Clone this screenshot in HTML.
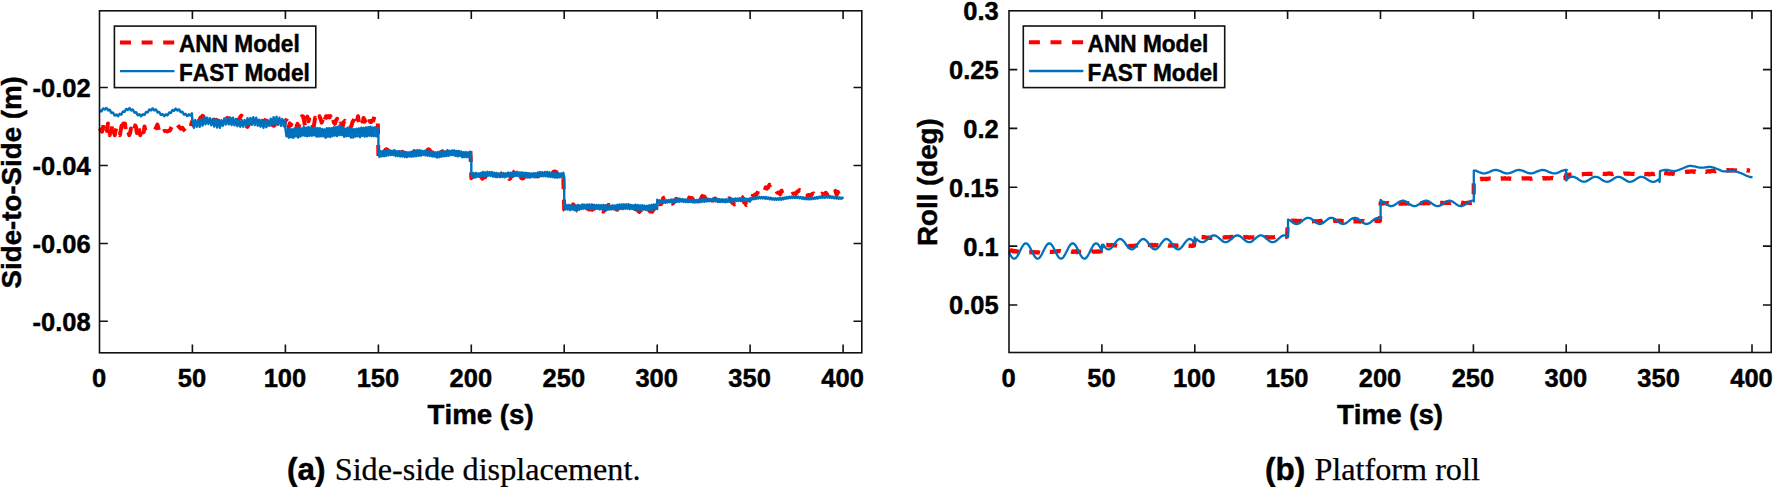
<!DOCTYPE html>
<html><head><meta charset="utf-8"><title>Figure</title>
<style>
html,body{margin:0;padding:0;background:#fff}
svg{display:block}
text{font-family:"Liberation Sans",Arial,Helvetica,sans-serif;font-weight:bold;font-kerning:none;fill:#000;stroke:#000;stroke-width:0.45px;stroke-linejoin:round}
.tk{font-size:25.5px}
.lb{font-size:27.7px}
.lg{font-size:22.65px}
.cb{font-size:31.5px}
.cs{font-family:"Liberation Serif","Times New Roman",serif;font-weight:normal;font-size:32.2px;stroke-width:0.25px}
</style></head><body>
<svg width="1773" height="487" viewBox="0 0 1773 487">
<rect width="1773" height="487" fill="#fff"/>
<!-- left data -->
<path d="M99.5,128.2 L100.3,129.3 L101.2,130.4 L102.0,131.6 L102.9,128.4 L103.7,123.6 L104.6,128.1 L105.4,130.6 L106.3,128.7 L107.1,131.0 L108.0,123.6 L108.8,132.1 L109.7,135.2 L110.5,131.1 L111.4,131.7 L112.2,124.7 L113.1,133.0 L113.9,132.0 L114.8,135.2 L115.6,130.7 L116.5,126.9 L117.3,130.1 L118.2,133.8 L119.0,134.3 L119.9,135.2 L120.7,130.4 L121.6,125.5 L122.4,131.6 L123.3,123.6 L124.1,124.5 L125.0,123.6 L125.8,131.0 L126.7,127.4 L127.5,131.4 L128.4,132.5 L129.2,135.2 L130.1,133.0 L130.9,128.5 L131.8,133.0 L132.6,130.1 L133.5,130.6 L134.3,129.7 L135.2,125.4 L136.0,126.9 L136.9,132.9 L137.7,126.9 L138.6,125.5 L139.4,132.3 L140.3,135.2 L141.1,130.7 L142.0,126.0 L142.8,128.9 L143.7,132.1 L144.5,126.5 L145.3,130.5 L147.2,130.9 L150.4,131.4 L154.1,130.9 L156.0,127.7 L157.4,124.5 L158.7,129.6 L159.7,135.1 L161.5,132.3 L164.3,130.9 L167.1,131.4 L169.8,130.5 L171.7,126.8 L173.5,122.2 L176.3,123.1 L178.6,126.3 L180.5,128.6 L182.3,127.7 L183.7,129.6 L186.0,131.9 L188.3,132.3 L190.2,130.5 L191.5,123.1 L192.4,121.2 L193.4,125.1 L194.4,126.3 L195.4,127.6 L196.4,128.5 L197.4,127.6 L198.4,124.6 L199.4,120.1 L200.4,117.7 L201.4,117.3 L202.4,115.9 L203.4,116.4 L204.4,119.3 L205.4,121.9 L206.4,122.8 L207.4,123.3 L208.4,123.7 L209.4,124.8 L210.4,122.7 L211.4,121.9 L212.4,121.2 L213.4,120.8 L214.4,119.7 L215.4,120.5 L216.4,119.7 L217.4,120.6 L218.4,120.7 L219.4,123.0 L220.4,122.7 L221.4,122.6 L222.4,123.0 L223.4,122.7 L224.4,122.6 L225.4,119.6 L226.4,118.6 L227.4,117.9 L228.4,119.7 L229.4,118.8 L230.4,119.3 L231.4,122.1 L232.4,125.6 L233.4,125.9 L234.4,127.0 L235.4,128.2 L236.4,126.1 L237.4,123.6 L238.4,119.5 L239.4,118.7 L240.4,116.8 L241.4,115.6 L242.4,116.9 L243.4,117.1 L244.4,122.0 L245.4,123.9 L246.4,126.1 L247.4,126.8 L248.4,125.4 L249.4,122.9 L250.4,122.7 L251.4,120.1 L252.4,119.3 L253.4,118.6 L254.4,118.9 L255.4,118.0 L256.4,121.6 L257.4,121.7 L258.4,123.1 L259.4,124.2 L260.4,122.8 L261.4,121.3 L262.4,121.7 L263.4,120.9 L264.4,120.7 L265.4,120.3 L266.4,117.9 L267.4,119.3 L268.4,118.0 L269.4,120.3 L270.4,121.4 L271.4,123.1 L272.4,125.0 L273.4,125.7 L274.4,125.7 L275.4,123.7 L276.4,122.8 L277.4,121.6 L278.4,119.0 L279.4,116.7 L280.4,115.7 L281.4,115.6 L282.4,119.6 L283.4,121.5 L284.4,124.4 L285.4,120.7 L286.5,119.6 L287.6,116.6 L288.7,127.4 L289.8,123.4 L290.9,125.2 L292.0,122.6 L293.1,123.2 L294.2,127.4 L295.3,124.6 L296.4,126.7 L297.5,123.9 L298.6,127.4 L299.7,123.2 L300.8,124.5 L301.9,116.2 L303.0,116.2 L304.1,120.7 L305.2,127.4 L306.3,118.4 L307.4,116.7 L308.5,121.2 L309.6,116.2 L310.7,118.9 L311.8,121.0 L312.9,126.2 L314.0,125.3 L315.1,117.8 L316.2,119.0 L317.3,116.2 L318.4,119.7 L319.5,116.2 L320.6,118.9 L321.7,122.6 L322.8,119.4 L323.9,124.5 L325.0,119.1 L326.1,116.2 L327.2,117.4 L328.3,116.2 L329.4,117.4 L330.5,116.2 L331.6,119.9 L332.7,116.2 L333.8,122.4 L334.9,123.8 L336.0,120.5 L337.1,118.8 L338.2,124.9 L339.3,126.8 L340.4,123.5 L341.5,125.5 L342.6,127.0 L343.7,122.3 L344.8,120.9 L345.9,122.8 L347.0,125.4 L348.1,127.4 L349.2,125.3 L350.3,127.4 L351.4,126.1 L352.5,122.0 L353.6,120.4 L354.7,116.8 L355.8,122.9 L356.9,121.4 L358.0,116.2 L359.1,123.6 L360.2,127.4 L361.3,127.2 L362.4,124.6 L363.5,118.0 L364.6,119.9 L365.7,121.7 L366.8,122.8 L367.9,120.7 L369.0,116.2 L370.1,122.0 L371.2,122.1 L372.3,120.2 L373.4,120.4 L374.5,116.2 L375.6,116.8 L376.7,120.2 L377.8,119.7 L378.4,158.0 L379.4,157.7 L380.4,158.1 L381.4,157.3 L382.4,154.8 L383.4,153.5 L384.4,151.4 L385.4,149.7 L386.4,149.2 L387.4,149.8 L388.4,150.9 L389.4,152.1 L390.4,153.8 L391.4,156.1 L392.4,156.5 L393.4,157.1 L394.4,156.9 L395.4,155.8 L396.4,155.8 L397.4,153.0 L398.4,153.3 L399.4,152.2 L400.4,153.5 L401.4,153.6 L402.4,151.8 L403.4,152.8 L404.4,154.2 L405.4,154.6 L406.4,154.9 L407.4,154.6 L408.4,154.9 L409.4,154.9 L410.4,154.1 L411.4,154.2 L412.4,151.5 L413.4,152.6 L414.4,151.1 L415.4,152.1 L416.4,151.8 L417.4,152.2 L418.4,154.2 L419.4,154.8 L420.4,156.1 L421.4,156.4 L422.4,157.3 L423.4,156.9 L424.4,155.7 L425.4,153.2 L426.4,152.0 L427.4,150.0 L428.4,149.2 L429.4,149.8 L430.4,151.2 L431.4,152.0 L432.4,154.0 L433.4,155.8 L434.4,157.1 L435.4,157.0 L436.4,157.7 L437.4,155.9 L438.4,155.1 L439.4,152.9 L440.4,152.5 L441.4,151.9 L442.4,151.3 L443.4,153.0 L444.4,152.7 L445.4,154.2 L446.4,154.4 L447.4,153.9 L448.4,154.4 L449.4,155.0 L450.4,154.6 L451.4,154.4 L452.4,153.8 L453.4,152.5 L454.4,153.0 L455.4,151.4 L456.4,152.7 L457.4,152.0 L458.4,152.2 L459.4,153.0 L460.4,154.1 L461.4,154.0 L462.4,154.7 L463.4,155.7 L464.4,155.3 L465.4,155.4 L466.4,155.8 L467.4,152.7 L468.4,152.1 L469.4,149.5 L470.4,149.8 L471.3,178.2 L472.3,177.2 L473.3,175.9 L474.3,174.6 L475.3,171.9 L476.3,170.9 L477.3,170.2 L478.3,172.0 L479.3,173.1 L480.3,175.5 L481.3,176.6 L482.3,178.7 L483.3,176.8 L484.3,177.3 L485.3,177.0 L486.3,175.0 L487.3,173.7 L488.3,173.3 L489.3,172.3 L490.3,173.4 L491.3,175.2 L492.3,175.0 L493.3,174.2 L494.3,174.8 L495.3,175.3 L496.3,176.2 L497.3,175.1 L498.3,174.9 L499.3,175.5 L500.3,175.0 L501.3,173.7 L502.3,172.8 L503.3,172.3 L504.3,173.0 L505.3,172.6 L506.3,175.4 L507.3,175.7 L508.3,177.4 L509.3,178.9 L510.3,178.4 L511.3,176.2 L512.3,176.0 L513.3,174.3 L514.3,171.5 L515.3,170.3 L516.3,170.7 L517.3,170.6 L518.3,174.0 L519.3,173.6 L520.3,176.3 L521.3,178.1 L522.3,178.5 L523.3,178.3 L524.3,177.1 L525.3,175.3 L526.3,174.5 L527.3,171.5 L528.3,172.3 L529.3,172.0 L530.3,173.2 L531.3,174.2 L532.3,174.4 L533.3,175.2 L534.3,176.4 L535.3,176.2 L536.3,175.3 L537.3,176.6 L538.3,176.3 L539.3,173.7 L540.3,174.4 L541.3,175.4 L542.3,174.3 L543.3,174.1 L544.3,174.2 L545.3,174.6 L546.3,175.5 L547.3,176.0 L548.3,177.3 L549.3,176.6 L550.3,176.1 L551.3,174.6 L552.3,173.9 L553.3,172.0 L554.3,171.4 L555.3,171.8 L556.3,172.0 L557.3,173.5 L558.3,175.3 L559.3,177.0 L560.3,178.3 L561.3,178.8 L562.3,179.0 L563.3,176.7 L564.2,209.6 L565.2,210.6 L566.2,211.4 L567.2,212.1 L568.2,211.5 L569.2,210.7 L570.2,208.4 L571.2,207.8 L572.2,205.5 L573.2,204.3 L574.2,205.8 L575.2,206.2 L576.2,208.8 L577.2,210.6 L578.2,211.0 L579.2,209.8 L580.2,209.7 L581.2,210.6 L582.2,209.0 L583.2,208.3 L584.2,208.6 L585.2,209.4 L586.2,208.9 L587.2,208.5 L588.2,209.0 L589.2,209.6 L590.2,209.2 L591.2,209.1 L592.2,209.8 L593.2,208.9 L594.2,208.8 L595.2,208.0 L596.2,208.6 L597.2,206.2 L598.2,206.7 L599.2,207.4 L600.2,209.1 L601.2,210.9 L602.2,211.2 L603.2,211.6 L604.2,210.8 L605.2,210.0 L606.2,209.1 L607.2,207.0 L608.2,205.1 L609.2,205.0 L610.2,205.8 L611.2,207.4 L612.2,208.4 L613.2,210.2 L614.2,210.2 L615.2,210.7 L616.2,211.9 L617.2,208.6 L618.2,208.6 L619.2,208.1 L620.2,207.3 L621.2,207.0 L622.2,207.8 L623.2,208.3 L624.2,208.8 L625.2,208.1 L626.2,209.4 L627.2,209.0 L628.2,209.1 L629.2,209.3 L630.2,209.2 L631.2,208.8 L632.2,207.5 L633.2,208.0 L634.2,208.2 L635.2,208.6 L636.2,209.6 L637.2,209.8 L638.2,210.8 L639.2,211.9 L640.2,210.4 L641.2,210.4 L642.2,208.5 L643.2,206.9 L644.2,204.8 L645.2,204.7 L646.2,205.7 L647.2,207.5 L648.2,209.4 L649.2,210.5 L650.2,211.6 L651.2,211.6 L652.2,211.8 L653.2,210.1 L654.2,209.2 L655.2,208.6 L656.2,206.8 L657.2,201.8 L658.2,203.8 L659.2,204.3 L660.2,204.0 L661.2,204.1 L662.2,201.3 L663.2,198.0 L664.2,197.6 L665.2,197.2 L666.2,196.5 L667.2,197.6 L668.2,199.5 L669.2,201.6 L670.2,203.1 L671.2,203.9 L672.2,203.8 L673.2,203.0 L674.2,202.1 L675.2,200.8 L676.2,198.8 L677.2,199.3 L678.2,199.6 L679.2,199.5 L680.2,200.7 L681.2,200.4 L682.2,200.5 L683.2,202.3 L684.2,202.1 L685.2,201.8 L686.2,202.0 L687.2,201.4 L688.2,200.2 L689.2,197.6 L690.2,197.9 L691.2,197.9 L692.2,198.1 L693.2,199.9 L694.2,202.2 L695.2,202.8 L696.2,203.6 L697.2,205.8 L698.2,203.6 L699.2,201.5 L700.2,200.2 L701.2,198.2 L702.2,196.0 L703.2,196.5 L704.2,196.5 L705.2,197.9 L706.2,200.7 L707.2,203.0 L708.2,203.5 L709.2,204.4 L710.2,203.6 L711.2,204.1 L712.2,200.5 L713.2,200.5 L714.2,198.8 L715.2,198.5 L716.2,199.3 L717.2,200.1 L718.2,201.0 L719.2,201.1 L720.2,201.0 L721.2,201.2 L722.2,201.8 L723.2,201.7 L724.2,201.8 L725.2,200.7 L726.2,200.6 L727.2,200.3 L728.2,199.2 L729.2,198.3 L730.2,198.9 L731.2,199.7 L732.2,202.8 L733.2,202.4 L734.2,204.4 L735.2,204.0 L736.2,203.7 L737.2,201.7 L738.2,199.1 L739.2,197.2 L740.2,196.4 L741.2,196.4 L742.2,197.1 L743.2,199.4 L744.2,202.7 L745.2,202.7 L746.2,205.0 L747.2,204.3 L748.2,203.9 L749.2,202.6 L750.2,200.0 L751.4,199.5 L752.6,195.9 L753.8,197.3 L755.0,194.5 L756.2,194.7 L757.4,193.2 L758.6,189.4 L759.8,190.6 L761.0,191.4 L762.2,192.6 L763.4,191.2 L764.6,190.5 L765.8,187.3 L767.0,188.6 L768.2,187.5 L769.4,184.8 L770.6,185.0 L771.8,184.1 L773.0,187.0 L774.2,189.5 L775.4,189.3 L776.6,191.7 L777.8,192.8 L779.0,192.8 L780.2,194.3 L781.4,190.8 L782.6,190.9 L783.8,190.5 L785.0,192.2 L786.2,193.0 L787.4,194.1 L788.6,194.2 L789.8,193.7 L791.0,195.0 L792.2,194.1 L793.4,193.4 L794.6,193.4 L795.8,194.0 L797.0,191.9 L798.2,191.3 L799.4,190.0 L800.6,190.7 L801.8,189.8 L803.0,192.8 L804.2,192.6 L805.4,195.0 L806.6,196.4 L807.8,195.2 L809.0,194.9 L810.2,196.8 L811.4,194.6 L812.6,193.7 L813.8,193.4 L815.0,195.0 L816.2,194.9 L817.4,193.2 L818.6,193.5 L819.8,194.9 L821.0,194.9 L822.2,193.6 L823.4,195.0 L824.6,195.1 L825.8,192.8 L827.0,194.4 L828.2,195.2 L829.4,194.3 L830.6,192.9 L831.8,194.8 L833.0,195.2 L834.2,195.4 L835.4,190.9 L836.6,195.0 L837.8,191.8 L839.0,194.7 L840.2,195.8 L841.4,195.9 L842.6,195.4" fill="none" stroke="#ff0000" stroke-width="4" stroke-dasharray="11 10.5" stroke-linejoin="round"/>
<path d="M99.5,111.4 L100.1,110.8 L100.7,111.1 L101.3,111.4 L101.9,110.7 L102.5,109.3 L103.1,108.4 L103.7,108.6 L104.3,109.4 L104.9,109.6 L105.5,108.8 L106.1,108.0 L106.7,108.1 L107.3,109.2 L107.9,110.2 L108.5,110.3 L109.1,109.8 L109.7,109.7 L110.3,110.7 L110.9,112.2 L111.5,113.0 L112.1,112.9 L112.7,112.5 L113.3,112.9 L113.9,114.2 L114.5,115.4 L115.1,115.5 L115.7,114.8 L116.3,114.4 L116.9,115.0 L117.5,115.9 L118.1,116.2 L118.7,115.3 L119.3,114.2 L119.9,113.8 L120.5,114.3 L121.1,114.7 L121.7,114.0 L122.3,112.6 L122.9,111.5 L123.5,111.5 L124.1,111.9 L124.7,111.8 L125.3,110.6 L125.9,109.3 L126.5,108.9 L127.1,109.5 L127.7,110.0 L128.3,109.6 L128.9,108.6 L129.5,108.1 L130.1,108.7 L130.7,109.8 L131.3,110.4 L131.9,110.0 L132.5,109.5 L133.1,109.9 L133.7,111.2 L134.3,112.4 L134.9,112.7 L135.5,112.3 L136.1,112.2 L136.7,113.2 L137.3,114.6 L137.9,115.3 L138.5,114.9 L139.1,114.3 L139.7,114.4 L140.3,115.4 L140.9,116.2 L141.5,115.9 L142.1,114.9 L142.7,114.1 L143.3,114.3 L143.9,115.0 L144.5,114.9 L145.1,113.8 L145.7,112.4 L146.3,111.9 L146.9,112.3 L147.5,112.5 L148.1,111.8 L148.7,110.4 L149.3,109.5 L149.9,109.6 L150.5,110.3 L151.1,110.4 L151.7,109.5 L152.3,108.5 L152.9,108.5 L153.5,109.4 L154.1,110.3 L154.7,110.3 L155.3,109.6 L155.9,109.4 L156.5,110.3 L157.1,111.7 L157.7,112.5 L158.3,112.2 L158.9,111.8 L159.5,112.3 L160.1,113.6 L160.7,114.8 L161.3,114.9 L161.9,114.3 L162.5,114.0 L163.1,114.7 L163.7,115.8 L164.3,116.2 L164.9,115.5 L165.5,114.5 L166.1,114.3 L166.7,114.9 L167.3,115.4 L167.9,114.8 L168.5,113.5 L169.1,112.5 L169.7,112.5 L170.3,113.0 L170.9,112.9 L171.5,111.7 L172.1,110.4 L172.7,109.9 L173.3,110.4 L173.9,110.9 L174.5,110.4 L175.1,109.3 L175.7,108.6 L176.3,109.1 L176.9,110.1 L177.5,110.5 L178.1,110.0 L178.7,109.4 L179.3,109.6 L179.9,110.9 L180.5,112.0 L181.1,112.2 L181.7,111.7 L182.3,111.6 L182.9,112.6 L183.5,114.0 L184.1,114.7 L184.7,114.4 L185.3,113.8 L185.9,114.1 L186.5,115.1 L187.1,116.1 L187.7,115.9 L188.3,115.0 L188.9,114.3 L189.5,114.7 L190.1,115.5 L190.7,115.5 L191.3,114.5 L191.9,113.3 L192.4,119.7 L193.9,127.8 L195.3,119.9 L196.8,126.8 L198.2,120.1 L199.7,126.9 L201.1,119.4 L202.6,125.6 L204.0,117.3 L205.5,124.3 L206.9,117.6 L208.4,124.1 L209.8,118.1 L211.3,125.2 L212.7,118.9 L214.2,126.5 L215.6,119.2 L217.1,127.6 L218.5,120.1 L220.0,127.8 L221.4,120.2 L222.9,125.8 L224.3,118.5 L225.8,124.5 L227.2,118.3 L228.7,124.4 L230.1,117.4 L231.6,125.1 L233.0,117.7 L234.5,125.4 L235.9,119.0 L237.4,126.2 L238.8,120.7 L240.3,126.8 L241.7,120.0 L243.2,126.7 L244.6,119.9 L246.1,125.5 L247.5,118.1 L249.0,124.5 L250.4,117.9 L251.9,124.9 L253.3,117.3 L254.8,125.0 L256.2,117.7 L257.7,125.8 L259.1,119.6 L260.6,126.7 L262.0,120.0 L263.5,127.8 L264.9,120.5 L266.4,127.2 L267.8,120.3 L269.3,125.9 L270.7,118.8 L272.2,124.5 L273.6,117.1 L275.1,124.2 L276.5,116.7 L278.0,124.7 L279.4,117.8 L280.9,125.7 L282.3,118.9 L283.8,126.2 L285.2,120.2 L285.4,128.4 L286.5,136.4 L287.7,129.0 L288.8,137.7 L290.0,129.1 L291.1,137.4 L292.3,129.1 L293.4,137.8 L294.6,128.5 L295.7,136.4 L296.9,128.0 L298.0,137.5 L299.2,127.5 L300.3,136.5 L301.5,128.4 L302.6,135.5 L303.8,126.8 L304.9,135.8 L306.1,127.8 L307.2,136.3 L308.4,127.0 L309.5,135.8 L310.7,127.5 L311.8,135.7 L313.0,128.1 L314.1,135.4 L315.3,127.4 L316.4,136.5 L317.6,128.3 L318.7,136.6 L319.9,128.2 L321.0,136.3 L322.2,129.0 L323.3,136.4 L324.5,129.4 L325.6,137.9 L326.8,128.3 L327.9,136.7 L329.1,128.2 L330.2,137.1 L331.4,128.1 L332.5,136.2 L333.7,127.2 L334.8,135.5 L336.0,127.2 L337.1,136.1 L338.3,126.5 L339.4,135.1 L340.6,126.6 L341.7,135.0 L342.9,127.2 L344.0,136.7 L345.2,128.6 L346.3,136.4 L347.5,127.8 L348.6,136.1 L349.8,128.4 L350.9,137.6 L352.1,128.8 L353.2,137.6 L354.4,129.2 L355.5,136.6 L356.7,128.8 L357.8,136.3 L359.0,128.5 L360.1,137.2 L361.3,127.7 L362.4,135.8 L363.6,127.9 L364.7,136.5 L365.9,127.4 L367.0,136.4 L368.2,127.2 L369.3,135.7 L370.5,126.6 L371.6,136.2 L372.8,127.5 L373.9,136.0 L375.1,127.3 L376.2,136.4 L377.4,127.6 L378.4,136.1 L378.4,152.1 L379.5,156.9 L380.6,151.3 L381.8,156.3 L382.9,151.1 L384.1,156.3 L385.2,150.7 L386.4,155.9 L387.5,150.1 L388.7,155.3 L389.8,150.4 L391.0,155.0 L392.1,150.8 L393.3,155.1 L394.4,150.1 L395.6,156.0 L396.7,151.2 L397.9,156.1 L399.0,151.3 L400.2,156.6 L401.3,151.5 L402.5,156.6 L403.6,151.5 L404.8,157.0 L405.9,152.0 L407.1,157.2 L408.2,152.3 L409.4,156.5 L410.5,151.9 L411.7,156.8 L412.8,151.1 L414.0,156.4 L415.1,151.3 L416.3,156.2 L417.4,150.3 L418.6,155.8 L419.7,150.3 L420.9,155.7 L422.0,150.8 L423.2,154.9 L424.3,151.0 L425.5,155.4 L426.6,151.1 L427.8,155.7 L428.9,151.2 L430.1,156.0 L431.2,151.6 L432.4,156.5 L433.5,151.8 L434.7,156.6 L435.8,152.3 L437.0,157.5 L438.1,152.0 L439.3,157.2 L440.4,151.6 L441.6,156.7 L442.7,151.7 L443.9,156.3 L445.0,151.4 L446.2,156.1 L447.3,150.1 L448.5,155.8 L449.6,150.8 L450.8,155.1 L451.9,150.5 L453.1,155.0 L454.2,150.3 L455.4,155.9 L456.5,151.0 L457.7,156.4 L458.8,150.9 L460.0,156.1 L461.1,151.4 L462.3,157.2 L463.4,152.2 L464.6,157.1 L465.7,152.0 L466.9,157.2 L468.0,152.4 L469.2,157.1 L470.3,151.7 L471.3,157.0 L471.3,172.9 L472.4,177.1 L473.6,173.1 L474.7,177.6 L475.9,172.9 L477.0,176.9 L478.2,173.4 L479.3,177.0 L480.5,172.9 L481.6,176.5 L482.8,172.0 L483.9,176.1 L485.1,172.3 L486.2,175.9 L487.4,171.8 L488.5,175.6 L489.7,172.1 L490.8,175.8 L492.0,172.1 L493.1,176.7 L494.3,172.7 L495.4,176.6 L496.6,172.9 L497.7,176.9 L498.9,173.4 L500.0,177.2 L501.2,173.4 L502.3,177.0 L503.5,173.1 L504.6,177.3 L505.8,173.3 L506.9,176.6 L508.1,172.6 L509.2,176.3 L510.4,172.7 L511.5,176.0 L512.7,172.5 L513.8,176.4 L515.0,172.2 L516.1,175.8 L517.3,171.8 L518.4,176.2 L519.6,172.5 L520.7,176.3 L521.9,172.3 L523.0,176.6 L524.2,172.8 L525.3,176.8 L526.5,173.0 L527.6,177.6 L528.8,173.1 L529.9,177.6 L531.1,173.5 L532.2,177.0 L533.4,173.2 L534.5,177.3 L535.7,173.2 L536.8,176.6 L538.0,172.5 L539.1,176.6 L540.3,171.9 L541.4,175.9 L542.6,172.3 L543.7,176.3 L544.9,172.0 L546.0,176.3 L547.2,171.9 L548.3,176.7 L549.5,172.3 L550.6,177.0 L551.8,173.0 L552.9,177.2 L554.1,173.5 L555.2,177.6 L556.4,173.2 L557.5,177.7 L558.7,173.5 L559.8,177.3 L561.0,173.4 L562.1,176.8 L563.3,172.8 L564.2,176.9 L564.2,204.9 L565.4,209.4 L566.5,204.9 L567.7,209.5 L568.8,205.0 L570.0,210.1 L571.1,205.5 L572.3,209.5 L573.4,205.2 L574.6,210.2 L575.7,205.7 L576.9,209.9 L578.0,204.9 L579.2,209.9 L580.3,205.3 L581.5,208.9 L582.6,204.3 L583.8,208.7 L584.9,204.8 L586.1,208.9 L587.2,204.4 L588.4,208.9 L589.5,204.5 L590.7,209.0 L591.8,204.5 L593.0,209.0 L594.1,204.8 L595.3,208.9 L596.4,205.0 L597.6,208.9 L598.7,205.0 L599.9,209.5 L601.0,205.1 L602.2,209.2 L603.3,204.9 L604.5,210.1 L605.6,205.1 L606.8,209.7 L607.9,205.6 L609.1,209.6 L610.2,205.8 L611.4,209.4 L612.5,205.3 L613.7,209.3 L614.8,205.4 L616.0,209.7 L617.1,204.9 L618.3,208.9 L619.4,204.5 L620.6,208.7 L621.7,204.4 L622.9,208.6 L624.0,204.3 L625.2,208.8 L626.3,204.3 L627.5,208.7 L628.6,204.2 L629.8,209.2 L630.9,204.9 L632.1,208.8 L633.2,205.2 L634.4,209.8 L635.5,204.7 L636.7,209.4 L637.8,204.9 L639.0,209.6 L640.1,205.5 L641.3,209.9 L642.4,205.2 L643.6,209.6 L644.7,205.7 L645.9,210.0 L647.0,205.8 L648.2,209.5 L649.3,205.3 L650.5,209.9 L651.6,204.8 L652.8,209.6 L653.9,204.5 L655.1,209.2 L656.2,204.3 L657.2,209.1 L657.2,199.8 L658.4,202.5 L659.5,200.3 L660.6,202.9 L661.8,200.4 L662.9,203.1 L664.1,200.2 L665.2,202.8 L666.4,200.0 L667.5,202.6 L668.7,200.1 L669.8,202.3 L671.0,199.6 L672.1,202.3 L673.3,199.4 L674.4,201.9 L675.6,199.2 L676.7,201.9 L677.9,199.1 L679.0,201.9 L680.2,199.1 L681.3,201.6 L682.5,199.0 L683.6,202.0 L684.8,199.4 L685.9,202.1 L687.1,199.6 L688.2,202.2 L689.4,199.5 L690.5,202.1 L691.7,199.7 L692.8,202.2 L694.0,199.6 L695.1,202.5 L696.3,199.9 L697.4,202.5 L698.6,199.7 L699.7,202.3 L700.9,199.6 L702.0,201.9 L703.2,199.1 L704.3,201.8 L705.5,199.1 L706.6,201.4 L707.8,198.7 L708.9,201.3 L710.1,198.9 L711.2,201.3 L712.4,198.9 L713.5,201.2 L714.7,198.6 L715.8,201.4 L717.0,199.1 L718.1,201.9 L719.3,199.1 L720.4,202.0 L721.6,199.2 L722.7,202.0 L723.9,199.4 L725.0,202.2 L726.2,199.3 L727.3,202.0 L728.5,199.3 L729.6,201.8 L730.8,199.1 L731.9,201.6 L733.1,198.8 L734.2,201.2 L735.4,198.4 L736.5,201.0 L737.7,198.4 L738.8,201.0 L740.0,198.3 L741.1,201.0 L742.3,198.1 L743.4,200.9 L744.6,198.3 L745.7,200.9 L746.9,198.7 L748.0,201.5 L749.2,198.8 L750.1,201.5 L750.1,198.2 L751.3,199.8 L752.4,197.9 L753.6,199.3 L754.7,197.6 L755.9,198.9 L757.0,197.2 L758.2,198.6 L759.3,196.8 L760.5,198.4 L761.6,196.9 L762.8,198.4 L763.9,196.9 L765.1,198.7 L766.2,197.0 L767.4,198.8 L768.5,197.5 L769.7,199.3 L770.8,197.7 L772.0,199.5 L773.1,198.2 L774.3,199.8 L775.4,198.2 L776.6,199.8 L777.7,198.3 L778.9,199.7 L780.0,198.0 L781.2,199.7 L782.3,197.8 L783.5,199.3 L784.6,197.5 L785.8,198.8 L786.9,197.0 L788.1,198.4 L789.2,196.8 L790.4,198.2 L791.5,196.4 L792.7,197.9 L793.8,196.3 L795.0,198.1 L796.1,196.5 L797.3,198.0 L798.4,196.6 L799.6,198.3 L800.7,196.9 L801.9,198.7 L803.0,197.3 L804.2,199.0 L805.3,197.6 L806.5,199.3 L807.6,197.7 L808.8,199.3 L809.9,197.6 L811.1,199.2 L812.2,197.7 L813.4,199.0 L814.5,197.5 L815.7,198.7 L816.8,196.9 L818.0,198.4 L819.1,196.7 L820.3,197.9 L821.4,196.3 L822.6,197.8 L823.7,196.0 L824.9,197.7 L826.0,195.9 L827.2,197.6 L828.3,195.9 L829.5,197.8 L830.6,196.3 L831.8,197.9 L832.9,196.6 L834.1,198.3 L835.2,197.0 L836.4,198.6 L837.5,197.1 L838.7,198.7 L839.8,197.4 L841.0,198.8 L842.1,197.4 L843.1,199.0" fill="none" stroke="#0072bd" stroke-width="2.4" stroke-linejoin="round"/>
<!-- right data -->
<path d="M1009.0,250.3 L1010.0,250.7 L1011.0,250.6 L1012.0,250.3 L1013.0,251.4 L1014.0,251.1 L1015.0,251.4 L1016.0,251.0 L1017.0,251.6 L1018.0,251.7 L1019.0,251.8 L1020.0,251.6 L1021.0,251.4 L1022.0,251.7 L1023.0,251.4 L1024.0,251.5 L1025.0,251.9 L1026.0,251.7 L1027.0,251.9 L1028.0,252.0 L1029.0,252.4 L1030.0,252.3 L1031.0,252.1 L1032.0,252.4 L1033.0,252.1 L1034.0,252.2 L1035.0,252.5 L1036.0,252.2 L1037.0,252.4 L1038.0,252.3 L1039.0,252.6 L1040.0,252.9 L1041.0,252.4 L1042.0,252.5 L1043.0,252.2 L1044.0,252.1 L1045.0,252.0 L1046.0,252.4 L1047.0,252.5 L1048.0,252.1 L1049.0,251.8 L1050.0,252.0 L1051.0,251.8 L1052.0,251.9 L1053.0,251.7 L1054.0,251.7 L1055.0,251.7 L1056.0,251.4 L1057.0,251.3 L1058.0,251.0 L1059.0,251.2 L1060.0,250.9 L1061.0,251.2 L1062.0,251.1 L1063.0,251.3 L1064.0,251.4 L1065.0,251.1 L1066.0,251.2 L1067.0,251.2 L1068.0,251.6 L1069.0,251.8 L1070.0,251.7 L1071.0,251.5 L1072.0,251.8 L1073.0,251.3 L1074.0,251.9 L1075.0,251.5 L1076.0,251.2 L1077.0,252.2 L1078.0,252.0 L1079.0,251.6 L1080.0,251.8 L1081.0,251.8 L1082.0,251.8 L1083.0,251.5 L1084.0,251.6 L1085.0,251.8 L1086.0,251.8 L1087.0,252.0 L1088.0,251.7 L1089.0,252.1 L1090.0,251.6 L1091.0,251.7 L1092.0,251.3 L1093.0,251.5 L1094.0,251.9 L1095.0,251.5 L1096.0,251.7 L1097.0,251.6 L1098.0,251.4 L1099.0,251.6 L1100.0,251.5 L1101.0,251.5 L1102.0,244.5 L1103.0,244.6 L1104.0,244.5 L1105.0,244.5 L1106.0,244.8 L1107.0,244.8 L1108.0,245.1 L1109.0,245.5 L1110.0,245.2 L1111.0,245.2 L1112.0,245.2 L1113.0,245.2 L1114.0,245.3 L1115.0,245.3 L1116.0,245.5 L1117.0,245.6 L1118.0,245.9 L1119.0,245.8 L1120.0,245.9 L1121.0,245.8 L1122.0,246.4 L1123.0,246.3 L1124.0,246.6 L1125.0,246.5 L1126.0,246.6 L1127.0,246.2 L1128.0,246.3 L1129.0,246.6 L1130.0,245.8 L1131.0,246.1 L1132.0,246.1 L1133.0,245.8 L1134.0,245.8 L1135.0,245.8 L1136.0,245.4 L1137.0,245.5 L1138.0,245.1 L1139.0,245.1 L1140.0,245.0 L1141.0,245.0 L1142.0,245.0 L1143.0,245.0 L1144.0,244.5 L1145.0,245.2 L1146.0,245.1 L1147.0,245.0 L1148.0,244.9 L1149.0,245.0 L1150.0,245.1 L1151.0,245.1 L1152.0,244.8 L1153.0,245.2 L1154.0,245.7 L1155.0,244.8 L1156.0,245.4 L1157.0,245.3 L1158.0,245.2 L1159.0,245.6 L1160.0,245.1 L1161.0,245.4 L1162.0,245.7 L1163.0,245.4 L1164.0,245.4 L1165.0,245.5 L1166.0,245.4 L1167.0,245.8 L1168.0,245.4 L1169.0,245.7 L1170.0,245.3 L1171.0,245.7 L1172.0,245.6 L1173.0,245.1 L1174.0,245.6 L1175.0,245.4 L1176.0,245.5 L1177.0,245.9 L1178.0,245.4 L1179.0,245.4 L1180.0,245.9 L1181.0,245.7 L1182.0,246.0 L1183.0,245.7 L1184.0,245.5 L1185.0,245.7 L1186.0,245.9 L1187.0,245.9 L1188.0,245.7 L1189.0,245.8 L1190.0,245.7 L1191.0,245.7 L1192.0,246.1 L1193.0,245.8 L1194.0,245.6 L1195.0,236.5 L1196.0,236.8 L1197.0,236.9 L1198.0,236.8 L1199.0,236.8 L1200.0,237.0 L1201.0,236.7 L1202.0,236.8 L1203.0,237.3 L1204.0,237.1 L1205.0,237.4 L1206.0,237.6 L1207.0,237.6 L1208.0,237.5 L1209.0,238.0 L1210.0,237.8 L1211.0,237.7 L1212.0,237.9 L1213.0,237.9 L1214.0,237.8 L1215.0,238.0 L1216.0,237.9 L1217.0,237.5 L1218.0,237.8 L1219.0,237.7 L1220.0,237.6 L1221.0,237.3 L1222.0,237.5 L1223.0,237.5 L1224.0,237.5 L1225.0,237.2 L1226.0,237.5 L1227.0,237.1 L1228.0,237.2 L1229.0,237.4 L1230.0,237.0 L1231.0,236.9 L1232.0,237.2 L1233.0,236.8 L1234.0,236.8 L1235.0,236.8 L1236.0,237.0 L1237.0,236.5 L1238.0,236.8 L1239.0,236.8 L1240.0,236.8 L1241.0,236.9 L1242.0,236.9 L1243.0,237.2 L1244.0,237.0 L1245.0,237.2 L1246.0,237.3 L1247.0,237.1 L1248.0,237.3 L1249.0,237.7 L1250.0,237.5 L1251.0,237.3 L1252.0,237.5 L1253.0,237.4 L1254.0,237.6 L1255.0,237.8 L1256.0,237.4 L1257.0,237.5 L1258.0,237.7 L1259.0,237.4 L1260.0,237.5 L1261.0,237.3 L1262.0,237.3 L1263.0,237.3 L1264.0,237.8 L1265.0,237.3 L1266.0,237.2 L1267.0,237.2 L1268.0,237.3 L1269.0,237.4 L1270.0,237.3 L1271.0,237.6 L1272.0,237.2 L1273.0,237.4 L1274.0,237.2 L1275.0,237.2 L1276.0,236.8 L1277.0,237.0 L1278.0,237.0 L1279.0,237.0 L1280.0,236.6 L1281.0,237.1 L1282.0,236.9 L1283.0,236.8 L1284.0,236.8 L1285.0,236.8 L1286.0,236.9 L1287.0,236.6 L1288.0,220.2 L1289.0,220.5 L1290.0,220.5 L1291.0,220.5 L1292.0,220.5 L1293.0,220.5 L1294.0,220.7 L1295.0,221.0 L1296.0,220.6 L1297.0,221.2 L1298.0,221.1 L1299.0,220.9 L1300.0,221.2 L1301.0,220.8 L1302.0,220.9 L1303.0,221.0 L1304.0,221.2 L1305.0,221.3 L1306.0,221.3 L1307.0,221.5 L1308.0,221.1 L1309.0,221.6 L1310.0,221.3 L1311.0,221.4 L1312.0,221.4 L1313.0,221.2 L1314.0,221.2 L1315.0,221.2 L1316.0,221.3 L1317.0,221.4 L1318.0,221.3 L1319.0,221.0 L1320.0,221.0 L1321.0,220.9 L1322.0,221.1 L1323.0,220.6 L1324.0,221.1 L1325.0,220.8 L1326.0,220.7 L1327.0,220.8 L1328.0,220.9 L1329.0,220.7 L1330.0,220.8 L1331.0,220.7 L1332.0,220.9 L1333.0,220.9 L1334.0,220.7 L1335.0,221.0 L1336.0,220.8 L1337.0,220.8 L1338.0,220.7 L1339.0,220.8 L1340.0,221.1 L1341.0,220.7 L1342.0,221.1 L1343.0,221.1 L1344.0,221.1 L1345.0,220.7 L1346.0,221.1 L1347.0,221.3 L1348.0,221.0 L1349.0,221.2 L1350.0,220.8 L1351.0,221.4 L1352.0,221.2 L1353.0,221.5 L1354.0,221.0 L1355.0,221.5 L1356.0,221.3 L1357.0,221.5 L1358.0,221.2 L1359.0,221.2 L1360.0,221.7 L1361.0,221.1 L1362.0,221.1 L1363.0,221.2 L1364.0,221.0 L1365.0,221.4 L1366.0,221.5 L1367.0,221.0 L1368.0,220.8 L1369.0,221.3 L1370.0,221.2 L1371.0,221.2 L1372.0,221.2 L1373.0,220.8 L1374.0,220.9 L1375.0,220.7 L1376.0,220.6 L1377.0,221.1 L1378.0,220.7 L1379.0,221.2 L1380.0,220.8 L1380.6,202.9 L1381.6,203.2 L1382.6,203.4 L1383.6,203.2 L1384.6,202.9 L1385.6,203.2 L1386.6,203.4 L1387.6,203.1 L1388.6,203.1 L1389.6,203.5 L1390.6,203.3 L1391.6,203.1 L1392.6,203.3 L1393.6,203.3 L1394.6,203.5 L1395.6,203.5 L1396.6,203.7 L1397.6,203.7 L1398.6,203.3 L1399.6,203.7 L1400.6,203.7 L1401.6,203.7 L1402.6,203.7 L1403.6,203.4 L1404.6,203.3 L1405.6,203.7 L1406.6,203.3 L1407.6,203.1 L1408.6,203.6 L1409.6,203.3 L1410.6,203.3 L1411.6,203.1 L1412.6,203.1 L1413.6,203.1 L1414.6,203.2 L1415.6,203.4 L1416.6,202.9 L1417.6,203.4 L1418.6,203.0 L1419.6,203.0 L1420.6,203.3 L1421.6,203.2 L1422.6,202.9 L1423.6,203.5 L1424.6,203.0 L1425.6,203.1 L1426.6,203.1 L1427.6,203.3 L1428.6,202.9 L1429.6,203.2 L1430.6,202.9 L1431.6,203.2 L1432.6,202.9 L1433.6,202.9 L1434.6,203.3 L1435.6,203.0 L1436.6,203.0 L1437.6,203.4 L1438.6,203.0 L1439.6,202.8 L1440.6,203.1 L1441.6,202.7 L1442.6,203.1 L1443.6,203.2 L1444.6,202.8 L1445.6,202.8 L1446.6,203.0 L1447.6,202.9 L1448.6,202.7 L1449.6,203.0 L1450.6,202.5 L1451.6,202.8 L1452.6,202.8 L1453.6,202.8 L1454.6,202.9 L1455.6,202.7 L1456.6,203.0 L1457.6,202.8 L1458.6,202.8 L1459.6,202.6 L1460.6,202.6 L1461.6,202.9 L1462.6,202.7 L1463.6,202.9 L1464.6,203.0 L1465.6,203.0 L1466.6,203.1 L1467.6,202.8 L1468.6,202.6 L1469.6,203.0 L1470.6,202.9 L1471.6,203.0 L1472.6,202.8 L1473.6,203.0 L1473.8,179.2 L1474.8,179.1 L1475.8,179.1 L1476.8,179.0 L1477.8,179.0 L1478.8,179.0 L1479.8,179.1 L1480.8,178.8 L1481.8,179.2 L1482.8,178.8 L1483.8,179.0 L1484.8,178.8 L1485.8,178.8 L1486.8,179.2 L1487.8,178.7 L1488.8,178.5 L1489.8,178.6 L1490.8,178.7 L1491.8,179.1 L1492.8,178.7 L1493.8,178.9 L1494.8,178.5 L1495.8,178.7 L1496.8,178.8 L1497.8,179.0 L1498.8,178.5 L1499.8,178.7 L1500.8,178.6 L1501.8,178.4 L1502.8,178.6 L1503.8,178.5 L1504.8,178.1 L1505.8,178.7 L1506.8,178.7 L1507.8,178.5 L1508.8,178.3 L1509.8,178.8 L1510.8,178.6 L1511.8,178.7 L1512.8,178.8 L1513.8,178.4 L1514.8,178.6 L1515.8,178.5 L1516.8,178.5 L1517.8,178.5 L1518.8,178.5 L1519.8,178.7 L1520.8,178.5 L1521.8,178.4 L1522.8,178.4 L1523.8,178.5 L1524.8,178.3 L1525.8,178.3 L1526.8,178.4 L1527.8,178.3 L1528.8,178.4 L1529.8,178.3 L1530.8,178.8 L1531.8,178.6 L1532.8,178.4 L1533.8,178.3 L1534.8,178.7 L1535.8,178.4 L1536.8,178.3 L1537.8,178.4 L1538.8,178.4 L1539.8,178.5 L1540.8,178.3 L1541.8,178.6 L1542.8,178.1 L1543.8,178.4 L1544.8,178.1 L1545.8,178.6 L1546.8,178.2 L1547.8,178.2 L1548.8,178.4 L1549.8,178.4 L1550.8,178.0 L1551.8,178.1 L1552.8,177.9 L1553.8,178.2 L1554.8,178.1 L1555.8,178.1 L1556.8,178.0 L1557.8,178.0 L1558.8,177.9 L1559.8,178.2 L1560.8,178.3 L1561.8,177.7 L1562.8,178.0 L1563.8,177.9 L1564.8,178.1 L1565.8,177.8 L1566.2,174.8 L1567.2,174.6 L1568.2,174.9 L1569.2,174.7 L1570.2,174.6 L1571.2,174.7 L1572.2,174.6 L1573.2,174.3 L1574.2,174.6 L1575.2,174.5 L1576.2,174.4 L1577.2,174.6 L1578.2,174.6 L1579.2,174.2 L1580.2,174.2 L1581.2,174.6 L1582.2,174.5 L1583.2,174.1 L1584.2,174.0 L1585.2,174.0 L1586.2,174.0 L1587.2,173.8 L1588.2,174.1 L1589.2,173.8 L1590.2,173.8 L1591.2,174.1 L1592.2,173.8 L1593.2,173.9 L1594.2,174.0 L1595.2,174.1 L1596.2,173.8 L1597.2,173.9 L1598.2,173.7 L1599.2,174.2 L1600.2,173.9 L1601.2,173.6 L1602.2,173.8 L1603.2,173.9 L1604.2,173.8 L1605.2,174.1 L1606.2,174.0 L1607.2,173.6 L1608.2,173.7 L1609.2,173.4 L1610.2,173.7 L1611.2,173.7 L1612.2,174.1 L1613.2,173.6 L1614.2,173.2 L1615.2,173.5 L1616.2,173.6 L1617.2,173.3 L1618.2,173.4 L1619.2,173.4 L1620.2,173.6 L1621.2,173.5 L1622.2,173.4 L1623.2,173.8 L1624.2,173.5 L1625.2,173.6 L1626.2,173.5 L1627.2,173.6 L1628.2,173.9 L1629.2,173.5 L1630.2,173.8 L1631.2,174.0 L1632.2,173.9 L1633.2,174.0 L1634.2,173.8 L1635.2,174.3 L1636.2,174.3 L1637.2,174.1 L1638.2,173.8 L1639.2,174.0 L1640.2,174.4 L1641.2,174.5 L1642.2,174.2 L1643.2,174.4 L1644.2,174.0 L1645.2,174.1 L1646.2,174.1 L1647.2,174.2 L1648.2,173.8 L1649.2,174.3 L1650.2,174.3 L1651.2,173.9 L1652.2,173.8 L1653.2,174.1 L1654.2,173.9 L1655.2,173.6 L1656.2,174.2 L1657.2,174.1 L1658.2,173.9 L1659.2,174.4 L1660.0,172.9 L1661.0,172.8 L1662.0,173.0 L1663.0,172.9 L1664.0,173.0 L1665.0,173.2 L1666.0,173.1 L1667.0,173.2 L1668.0,173.6 L1669.0,173.5 L1670.0,173.6 L1671.0,173.6 L1672.0,173.6 L1673.0,173.9 L1674.0,173.5 L1675.0,173.7 L1676.0,173.1 L1677.0,173.1 L1678.0,172.8 L1679.0,172.8 L1680.0,172.9 L1681.0,172.9 L1682.0,172.4 L1683.0,172.4 L1684.0,172.3 L1685.0,172.1 L1686.0,171.9 L1687.0,172.0 L1688.0,171.5 L1689.0,171.8 L1690.0,171.6 L1691.0,171.4 L1692.0,171.3 L1693.0,171.3 L1694.0,171.8 L1695.0,171.3 L1696.0,171.8 L1697.0,171.6 L1698.0,171.4 L1699.0,171.3 L1700.0,171.7 L1701.0,171.8 L1702.0,171.3 L1703.0,171.4 L1704.0,171.7 L1705.0,171.6 L1706.0,171.9 L1707.0,171.4 L1708.0,171.5 L1709.0,171.1 L1710.0,171.6 L1711.0,171.1 L1712.0,170.7 L1713.0,171.0 L1714.0,170.9 L1715.0,171.2 L1716.0,170.8 L1717.0,170.7 L1718.0,170.8 L1719.0,170.9 L1720.0,170.5 L1721.0,170.6 L1722.0,170.4 L1723.0,170.2 L1724.0,170.2 L1725.0,170.2 L1726.0,170.1 L1727.0,170.5 L1728.0,170.0 L1729.0,170.5 L1730.0,170.4 L1731.0,170.3 L1732.0,170.2 L1733.0,170.3 L1734.0,170.4 L1735.0,170.5 L1736.0,170.4 L1737.0,170.5 L1738.0,170.3 L1739.0,170.4 L1740.0,170.1 L1741.0,170.5 L1742.0,170.4 L1743.0,170.3 L1744.0,170.6 L1745.0,170.6 L1746.0,169.9 L1747.0,170.5 L1748.0,170.2 L1749.0,170.7 L1750.0,170.9" fill="none" stroke="#ff0000" stroke-width="4.2" stroke-dasharray="11 10.5" stroke-linejoin="round"/>
<path d="M1009.0,252.3 L1009.8,253.9 L1010.6,255.4 L1011.4,256.6 L1012.2,257.6 L1013.0,258.3 L1013.8,258.7 L1014.6,258.7 L1015.4,258.3 L1016.2,257.6 L1017.0,256.6 L1017.8,255.4 L1018.6,253.9 L1019.4,252.3 L1020.2,250.7 L1021.0,249.1 L1021.8,247.5 L1022.6,246.1 L1023.4,245.0 L1024.2,244.1 L1025.0,243.5 L1025.8,243.3 L1026.6,243.4 L1027.4,243.9 L1028.2,244.7 L1029.0,245.8 L1029.8,247.1 L1030.6,248.7 L1031.4,250.3 L1032.2,251.9 L1033.0,253.5 L1033.8,255.0 L1034.6,256.3 L1035.4,257.4 L1036.2,258.2 L1037.0,258.6 L1037.8,258.7 L1038.6,258.4 L1039.4,257.8 L1040.2,256.9 L1041.0,255.7 L1041.8,254.3 L1042.6,252.7 L1043.4,251.1 L1044.2,249.5 L1045.0,247.9 L1045.8,246.5 L1046.6,245.2 L1047.4,244.3 L1048.2,243.6 L1049.0,243.3 L1049.8,243.4 L1050.6,243.8 L1051.4,244.5 L1052.2,245.5 L1053.0,246.8 L1053.8,248.3 L1054.6,249.9 L1055.4,251.5 L1056.2,253.1 L1057.0,254.7 L1057.8,256.0 L1058.6,257.2 L1059.4,258.0 L1060.2,258.5 L1061.0,258.7 L1061.8,258.5 L1062.6,258.0 L1063.4,257.2 L1064.2,256.0 L1065.0,254.7 L1065.8,253.1 L1066.6,251.5 L1067.4,249.9 L1068.2,248.3 L1069.0,246.8 L1069.8,245.5 L1070.6,244.5 L1071.4,243.8 L1072.2,243.4 L1073.0,243.3 L1073.8,243.6 L1074.6,244.3 L1075.4,245.2 L1076.2,246.5 L1077.0,247.9 L1077.8,249.5 L1078.6,251.1 L1079.4,252.7 L1080.2,254.3 L1081.0,255.7 L1081.8,256.9 L1082.6,257.8 L1083.4,258.4 L1084.2,258.7 L1085.0,258.6 L1085.8,258.2 L1086.6,257.4 L1087.4,256.3 L1088.2,255.0 L1089.0,253.5 L1089.8,251.9 L1090.6,250.3 L1091.4,248.7 L1092.2,247.2 L1093.0,245.8 L1093.8,244.7 L1094.6,243.9 L1095.4,243.4 L1096.2,243.3 L1097.0,243.5 L1097.8,244.1 L1098.6,245.0 L1099.4,246.1 L1100.2,247.5 L1101.0,249.1 L1101.8,250.7 L1102.0,245.0 L1102.6,247.8 L1103.4,244.6 L1104.4,246.5 L1105.2,247.5 L1106.0,248.3 L1106.8,248.9 L1107.6,249.2 L1108.4,249.4 L1109.2,249.3 L1110.0,249.0 L1110.8,248.4 L1111.6,247.7 L1112.4,246.8 L1113.2,245.7 L1114.0,244.6 L1114.8,243.5 L1115.6,242.4 L1116.4,241.4 L1117.2,240.5 L1118.0,239.8 L1118.8,239.3 L1119.6,239.0 L1120.4,239.0 L1121.2,239.2 L1122.0,239.7 L1122.8,240.3 L1123.6,241.2 L1124.4,242.1 L1125.2,243.2 L1126.0,244.3 L1126.8,245.5 L1127.6,246.5 L1128.4,247.5 L1129.2,248.3 L1130.0,248.9 L1130.8,249.2 L1131.6,249.4 L1132.4,249.3 L1133.2,249.0 L1134.0,248.4 L1134.8,247.7 L1135.6,246.8 L1136.4,245.7 L1137.2,244.6 L1138.0,243.5 L1138.8,242.4 L1139.6,241.4 L1140.4,240.5 L1141.2,239.8 L1142.0,239.3 L1142.8,239.0 L1143.6,239.0 L1144.4,239.2 L1145.2,239.7 L1146.0,240.3 L1146.8,241.2 L1147.6,242.1 L1148.4,243.2 L1149.2,244.3 L1150.0,245.5 L1150.8,246.5 L1151.6,247.5 L1152.4,248.3 L1153.2,248.9 L1154.0,249.2 L1154.8,249.4 L1155.6,249.3 L1156.4,249.0 L1157.2,248.4 L1158.0,247.7 L1158.8,246.8 L1159.6,245.7 L1160.4,244.6 L1161.2,243.5 L1162.0,242.4 L1162.8,241.4 L1163.6,240.5 L1164.4,239.8 L1165.2,239.3 L1166.0,239.0 L1166.8,239.0 L1167.6,239.2 L1168.4,239.7 L1169.2,240.3 L1170.0,241.2 L1170.8,242.1 L1171.6,243.2 L1172.4,244.3 L1173.2,245.5 L1174.0,246.5 L1174.8,247.5 L1175.6,248.3 L1176.4,248.9 L1177.2,249.2 L1178.0,249.4 L1178.8,249.3 L1179.6,249.0 L1180.4,248.4 L1181.2,247.7 L1182.0,246.8 L1182.8,245.7 L1183.6,244.6 L1184.4,243.5 L1185.2,242.4 L1186.0,241.4 L1186.8,240.5 L1187.6,239.8 L1188.4,239.3 L1189.2,239.0 L1190.0,239.0 L1190.8,239.2 L1191.6,239.7 L1192.4,240.3 L1193.2,241.2 L1194.0,242.1 L1194.8,243.2 L1194.6,237.3 L1195.2,241.5 L1196.6,239.1 L1197.4,239.8 L1198.2,240.5 L1199.0,241.1 L1199.8,241.6 L1200.6,241.9 L1201.4,242.1 L1202.2,242.2 L1203.0,242.1 L1203.8,241.9 L1204.6,241.5 L1205.4,241.0 L1206.2,240.4 L1207.0,239.7 L1207.8,239.0 L1208.6,238.3 L1209.4,237.6 L1210.2,236.9 L1211.0,236.4 L1211.8,235.9 L1212.6,235.6 L1213.4,235.4 L1214.2,235.4 L1215.0,235.5 L1215.8,235.8 L1216.6,236.2 L1217.4,236.8 L1218.2,237.4 L1219.0,238.1 L1219.8,238.8 L1220.6,239.5 L1221.4,240.2 L1222.2,240.9 L1223.0,241.4 L1223.8,241.8 L1224.6,242.1 L1225.4,242.2 L1226.2,242.2 L1227.0,242.0 L1227.8,241.7 L1228.6,241.2 L1229.4,240.6 L1230.2,240.0 L1231.0,239.3 L1231.8,238.6 L1232.6,237.8 L1233.4,237.2 L1234.2,236.6 L1235.0,236.1 L1235.8,235.7 L1236.6,235.5 L1237.4,235.4 L1238.2,235.5 L1239.0,235.7 L1239.8,236.1 L1240.6,236.6 L1241.4,237.2 L1242.2,237.8 L1243.0,238.6 L1243.8,239.3 L1244.6,240.0 L1245.4,240.6 L1246.2,241.2 L1247.0,241.7 L1247.8,242.0 L1248.6,242.2 L1249.4,242.2 L1250.2,242.1 L1251.0,241.8 L1251.8,241.4 L1252.6,240.9 L1253.4,240.2 L1254.2,239.5 L1255.0,238.8 L1255.8,238.1 L1256.6,237.4 L1257.4,236.8 L1258.2,236.2 L1259.0,235.8 L1259.8,235.5 L1260.6,235.4 L1261.4,235.4 L1262.2,235.6 L1263.0,235.9 L1263.8,236.4 L1264.6,236.9 L1265.4,237.6 L1266.2,238.3 L1267.0,239.0 L1267.8,239.7 L1268.6,240.4 L1269.4,241.0 L1270.2,241.5 L1271.0,241.9 L1271.8,242.1 L1272.6,242.2 L1273.4,242.1 L1274.2,241.9 L1275.0,241.6 L1275.8,241.1 L1276.6,240.5 L1277.4,239.8 L1278.2,239.1 L1279.0,238.4 L1279.8,237.7 L1280.6,237.0 L1281.4,236.4 L1282.2,236.0 L1283.0,235.6 L1283.8,235.4 L1284.6,235.4 L1285.4,235.5 L1286.2,235.8 L1287.0,236.2 L1287.8,236.7 L1288.0,237.0 L1288.0,219.6 L1289.6,220.0 L1290.4,220.6 L1291.2,221.3 L1292.0,221.9 L1292.8,222.5 L1293.6,223.1 L1294.4,223.5 L1295.2,223.8 L1296.0,224.0 L1296.8,224.0 L1297.6,223.9 L1298.4,223.6 L1299.2,223.2 L1300.0,222.8 L1300.8,222.2 L1301.6,221.5 L1302.4,220.9 L1303.2,220.2 L1304.0,219.6 L1304.8,219.0 L1305.6,218.5 L1306.4,218.2 L1307.2,217.9 L1308.0,217.8 L1308.8,217.8 L1309.6,218.0 L1310.4,218.3 L1311.2,218.8 L1312.0,219.3 L1312.8,219.9 L1313.6,220.5 L1314.4,221.2 L1315.2,221.9 L1316.0,222.5 L1316.8,223.0 L1317.6,223.4 L1318.4,223.8 L1319.2,224.0 L1320.0,224.0 L1320.8,223.9 L1321.6,223.7 L1322.4,223.3 L1323.2,222.8 L1324.0,222.3 L1324.8,221.6 L1325.6,221.0 L1326.4,220.3 L1327.2,219.7 L1328.0,219.1 L1328.8,218.6 L1329.6,218.2 L1330.4,217.9 L1331.2,217.8 L1332.0,217.8 L1332.8,218.0 L1333.6,218.3 L1334.4,218.7 L1335.2,219.2 L1336.0,219.8 L1336.8,220.5 L1337.6,221.1 L1338.4,221.8 L1339.2,222.4 L1340.0,222.9 L1340.8,223.4 L1341.6,223.7 L1342.4,223.9 L1343.2,224.0 L1344.0,223.9 L1344.8,223.7 L1345.6,223.3 L1346.4,222.9 L1347.2,222.3 L1348.0,221.7 L1348.8,221.0 L1349.6,220.4 L1350.4,219.7 L1351.2,219.1 L1352.0,218.6 L1352.8,218.2 L1353.6,218.0 L1354.4,217.8 L1355.2,217.8 L1356.0,218.0 L1356.8,218.2 L1357.6,218.6 L1358.4,219.1 L1359.2,219.7 L1360.0,220.4 L1360.8,221.0 L1361.6,221.7 L1362.4,222.3 L1363.2,222.9 L1364.0,223.3 L1364.8,223.7 L1365.6,223.9 L1366.4,224.0 L1367.2,223.9 L1368.0,223.7 L1368.8,223.4 L1369.6,222.9 L1370.4,222.4 L1371.2,221.8 L1372.0,221.1 L1372.8,220.5 L1373.6,219.8 L1374.4,219.2 L1375.2,218.7 L1376.0,218.3 L1376.8,218.0 L1377.6,217.8 L1378.4,217.8 L1379.2,217.9 L1380.0,218.2 L1380.8,218.6 L1380.6,218.5 L1380.6,199.9 L1381.8,201.2 L1382.6,201.6 L1383.4,202.1 L1384.2,202.7 L1385.0,203.2 L1385.8,203.8 L1386.6,204.4 L1387.4,204.9 L1388.2,205.3 L1389.0,205.7 L1389.8,205.9 L1390.6,206.1 L1391.4,206.1 L1392.2,206.0 L1393.0,205.7 L1393.8,205.4 L1394.6,205.0 L1395.4,204.4 L1396.2,203.9 L1397.0,203.3 L1397.8,202.7 L1398.6,202.2 L1399.4,201.7 L1400.2,201.3 L1401.0,201.0 L1401.8,200.8 L1402.6,200.7 L1403.4,200.7 L1404.2,200.9 L1405.0,201.2 L1405.8,201.6 L1406.6,202.1 L1407.4,202.6 L1408.2,203.2 L1409.0,203.7 L1409.8,204.3 L1410.6,204.8 L1411.4,205.3 L1412.2,205.7 L1413.0,205.9 L1413.8,206.1 L1414.6,206.1 L1415.4,206.0 L1416.2,205.8 L1417.0,205.4 L1417.8,205.0 L1418.6,204.5 L1419.4,204.0 L1420.2,203.4 L1421.0,202.8 L1421.8,202.3 L1422.6,201.8 L1423.4,201.3 L1424.2,201.0 L1425.0,200.8 L1425.8,200.7 L1426.6,200.7 L1427.4,200.9 L1428.2,201.2 L1429.0,201.5 L1429.8,202.0 L1430.6,202.5 L1431.4,203.1 L1432.2,203.7 L1433.0,204.2 L1433.8,204.8 L1434.6,205.2 L1435.4,205.6 L1436.2,205.9 L1437.0,206.1 L1437.8,206.1 L1438.6,206.0 L1439.4,205.8 L1440.2,205.5 L1441.0,205.1 L1441.8,204.6 L1442.6,204.0 L1443.4,203.5 L1444.2,202.9 L1445.0,202.3 L1445.8,201.8 L1446.6,201.4 L1447.4,201.0 L1448.2,200.8 L1449.0,200.7 L1449.8,200.7 L1450.6,200.9 L1451.4,201.1 L1452.2,201.5 L1453.0,201.9 L1453.8,202.5 L1454.6,203.0 L1455.4,203.6 L1456.2,204.2 L1457.0,204.7 L1457.8,205.2 L1458.6,205.6 L1459.4,205.9 L1460.2,206.0 L1461.0,206.1 L1461.8,206.0 L1462.6,205.8 L1463.4,205.5 L1464.2,205.1 L1465.0,204.6 L1465.8,204.1 L1466.6,203.5 L1467.4,202.9 L1468.2,202.4 L1469.0,201.9 L1469.8,201.4 L1470.6,201.1 L1471.4,200.8 L1472.2,200.7 L1473.0,200.7 L1473.8,200.8 L1473.8,201.5 L1473.8,170.6 L1475.6,170.6 L1476.4,170.9 L1477.2,171.3 L1478.0,171.6 L1478.8,172.0 L1479.6,172.3 L1480.4,172.7 L1481.2,172.9 L1482.0,173.2 L1482.8,173.3 L1483.6,173.4 L1484.4,173.4 L1485.2,173.3 L1486.0,173.2 L1486.8,172.9 L1487.6,172.7 L1488.4,172.3 L1489.2,172.0 L1490.0,171.6 L1490.8,171.3 L1491.6,170.9 L1492.4,170.6 L1493.2,170.4 L1494.0,170.2 L1494.8,170.0 L1495.6,170.0 L1496.4,170.0 L1497.2,170.1 L1498.0,170.3 L1498.8,170.6 L1499.6,170.8 L1500.4,171.2 L1501.2,171.5 L1502.0,171.9 L1502.8,172.3 L1503.6,172.6 L1504.4,172.9 L1505.2,173.1 L1506.0,173.3 L1506.8,173.4 L1507.6,173.4 L1508.4,173.3 L1509.2,173.2 L1510.0,173.0 L1510.8,172.7 L1511.6,172.4 L1512.4,172.1 L1513.2,171.7 L1514.0,171.4 L1514.8,171.0 L1515.6,170.7 L1516.4,170.4 L1517.2,170.2 L1518.0,170.1 L1518.8,170.0 L1519.6,170.0 L1520.4,170.1 L1521.2,170.3 L1522.0,170.5 L1522.8,170.8 L1523.6,171.1 L1524.4,171.4 L1525.2,171.8 L1526.0,172.2 L1526.8,172.5 L1527.6,172.8 L1528.4,173.1 L1529.2,173.2 L1530.0,173.4 L1530.8,173.4 L1531.6,173.4 L1532.4,173.2 L1533.2,173.1 L1534.0,172.8 L1534.8,172.5 L1535.6,172.2 L1536.4,171.8 L1537.2,171.4 L1538.0,171.1 L1538.8,170.8 L1539.6,170.5 L1540.4,170.3 L1541.2,170.1 L1542.0,170.0 L1542.8,170.0 L1543.6,170.1 L1544.4,170.2 L1545.2,170.4 L1546.0,170.7 L1546.8,171.0 L1547.6,171.4 L1548.4,171.7 L1549.2,172.1 L1550.0,172.4 L1550.8,172.7 L1551.6,173.0 L1552.4,173.2 L1553.2,173.3 L1554.0,173.4 L1554.8,173.4 L1555.6,173.3 L1556.4,173.1 L1557.2,172.9 L1558.0,172.6 L1558.8,172.3 L1559.6,171.9 L1560.4,171.5 L1561.2,171.2 L1562.0,170.9 L1562.8,170.6 L1563.6,170.3 L1564.4,170.1 L1565.2,170.0 L1566.0,170.0 L1566.8,170.0 L1566.0,170.9 L1566.2,180.6 L1567.8,178.5 L1568.6,178.0 L1569.4,177.5 L1570.2,177.2 L1571.0,176.9 L1571.8,176.8 L1572.6,176.7 L1573.4,176.8 L1574.2,177.0 L1575.0,177.3 L1575.8,177.7 L1576.6,178.1 L1577.4,178.6 L1578.2,179.2 L1579.0,179.7 L1579.8,180.3 L1580.6,180.7 L1581.4,181.1 L1582.2,181.4 L1583.0,181.6 L1583.8,181.7 L1584.6,181.7 L1585.4,181.6 L1586.2,181.3 L1587.0,180.9 L1587.8,180.5 L1588.6,180.0 L1589.4,179.5 L1590.2,178.9 L1591.0,178.4 L1591.8,177.9 L1592.6,177.5 L1593.4,177.2 L1594.2,176.9 L1595.0,176.8 L1595.8,176.8 L1596.6,176.9 L1597.4,177.1 L1598.2,177.4 L1599.0,177.8 L1599.8,178.3 L1600.6,178.8 L1601.4,179.4 L1602.2,179.9 L1603.0,180.4 L1603.8,180.9 L1604.6,181.3 L1605.4,181.5 L1606.2,181.7 L1607.0,181.8 L1607.8,181.7 L1608.6,181.6 L1609.4,181.3 L1610.2,180.9 L1611.0,180.4 L1611.8,179.9 L1612.6,179.4 L1613.4,178.9 L1614.2,178.3 L1615.0,177.9 L1615.8,177.5 L1616.6,177.1 L1617.4,176.9 L1618.2,176.8 L1619.0,176.8 L1619.8,177.0 L1620.6,177.2 L1621.4,177.6 L1622.2,178.0 L1623.0,178.5 L1623.8,179.0 L1624.6,179.6 L1625.4,180.1 L1626.2,180.6 L1627.0,181.0 L1627.8,181.4 L1628.6,181.7 L1629.4,181.8 L1630.2,181.8 L1631.0,181.7 L1631.8,181.5 L1632.6,181.2 L1633.4,180.8 L1634.2,180.4 L1635.0,179.9 L1635.8,179.3 L1636.6,178.8 L1637.4,178.3 L1638.2,177.8 L1639.0,177.4 L1639.8,177.1 L1640.6,176.9 L1641.4,176.9 L1642.2,176.9 L1643.0,177.1 L1643.8,177.3 L1644.6,177.7 L1645.4,178.2 L1646.2,178.7 L1647.0,179.2 L1647.8,179.7 L1648.6,180.3 L1649.4,180.8 L1650.2,181.2 L1651.0,181.5 L1651.8,181.7 L1652.6,181.9 L1653.4,181.9 L1654.2,181.8 L1655.0,181.5 L1655.8,181.2 L1656.6,180.8 L1657.4,180.3 L1658.2,179.8 L1659.0,179.2 L1659.6,182.0 L1660.0,171.2 L1660.5,170.8 L1661.5,170.6 L1662.5,170.4 L1663.5,170.1 L1664.5,169.9 L1665.5,169.9 L1666.5,169.9 L1667.5,170.0 L1668.5,170.2 L1669.5,170.4 L1670.5,170.6 L1671.5,170.8 L1672.5,171.0 L1673.5,171.2 L1674.5,171.2 L1675.5,171.0 L1676.5,170.7 L1677.5,170.4 L1678.5,170.0 L1679.5,169.7 L1680.5,169.3 L1681.5,168.9 L1682.5,168.5 L1683.5,168.0 L1684.5,167.6 L1685.5,167.2 L1686.5,166.8 L1687.5,166.4 L1688.5,166.1 L1689.5,165.9 L1690.5,165.8 L1691.5,165.9 L1692.5,166.1 L1693.5,166.3 L1694.5,166.4 L1695.5,166.6 L1696.5,166.9 L1697.5,167.1 L1698.5,167.4 L1699.5,167.6 L1700.5,167.7 L1701.5,167.7 L1702.5,167.7 L1703.5,167.6 L1704.5,167.5 L1705.5,167.3 L1706.5,167.2 L1707.5,167.1 L1708.5,167.0 L1709.5,166.9 L1710.5,166.9 L1711.5,167.1 L1712.5,167.3 L1713.5,167.6 L1714.5,167.9 L1715.5,168.3 L1716.5,168.7 L1717.5,169.1 L1718.5,169.5 L1719.5,169.9 L1720.5,170.4 L1721.5,170.8 L1722.5,171.1 L1723.5,171.4 L1724.5,171.4 L1725.5,171.4 L1726.5,171.4 L1727.5,171.3 L1728.5,171.3 L1729.5,171.3 L1730.5,171.2 L1731.5,171.2 L1732.5,171.1 L1733.5,171.1 L1734.5,171.2 L1735.5,171.3 L1736.5,171.6 L1737.5,171.9 L1738.5,172.3 L1739.5,172.6 L1740.5,173.0 L1741.5,173.4 L1742.5,173.8 L1743.5,174.2 L1744.5,174.7 L1745.5,175.2 L1746.5,175.7 L1747.5,176.1 L1748.5,176.5 L1749.5,176.8 L1750.5,177.0 L1751.5,177.2 L1752.5,177.4" fill="none" stroke="#0072bd" stroke-width="2.3" stroke-linejoin="round"/>
<rect x="99.5" y="10.8" width="762.3" height="342.0" fill="none" stroke="#111" stroke-width="1.6"/>
<path d="M192.4,352.8v-8.3 M192.4,10.8v8.3 M285.4,352.8v-8.3 M285.4,10.8v8.3 M378.4,352.8v-8.3 M378.4,10.8v8.3 M471.3,352.8v-8.3 M471.3,10.8v8.3 M564.2,352.8v-8.3 M564.2,10.8v8.3 M657.2,352.8v-8.3 M657.2,10.8v8.3 M750.1,352.8v-8.3 M750.1,10.8v8.3 M843.1,352.8v-8.3 M843.1,10.8v8.3 M99.5,87.5h8.3 M861.8,87.5h-8.3 M99.5,165.5h8.3 M861.8,165.5h-8.3 M99.5,243.5h8.3 M861.8,243.5h-8.3 M99.5,321.3h8.3 M861.8,321.3h-8.3 " stroke="#111" stroke-width="1.6" fill="none"/>
<rect x="1009.0" y="10.8" width="762.2" height="341.7" fill="none" stroke="#111" stroke-width="1.6"/>
<path d="M1101.9,352.5v-8.3 M1101.9,10.8v8.3 M1194.8,352.5v-8.3 M1194.8,10.8v8.3 M1287.6,352.5v-8.3 M1287.6,10.8v8.3 M1380.5,352.5v-8.3 M1380.5,10.8v8.3 M1473.4,352.5v-8.3 M1473.4,10.8v8.3 M1566.2,352.5v-8.3 M1566.2,10.8v8.3 M1659.1,352.5v-8.3 M1659.1,10.8v8.3 M1752.0,352.5v-8.3 M1752.0,10.8v8.3 M1009.0,69.6h8.3 M1771.2,69.6h-8.3 M1009.0,128.4h8.3 M1771.2,128.4h-8.3 M1009.0,187.2h8.3 M1771.2,187.2h-8.3 M1009.0,246.1h8.3 M1771.2,246.1h-8.3 M1009.0,305.0h8.3 M1771.2,305.0h-8.3 " stroke="#111" stroke-width="1.6" fill="none"/>
<rect x="114.4" y="26.1" width="201.4" height="61.5" fill="#fff" stroke="#111" stroke-width="1.6"/>
<path d="M120.0,42.400000000000006h55" stroke="#ff0000" stroke-width="4" stroke-dasharray="11 10.6" fill="none"/>
<path d="M120.0,71.1h54.5" stroke="#0072bd" stroke-width="2.3" fill="none"/>
<text class="lg" transform="translate(179.0,51.6) scale(1,1.02)" text-anchor="start">ANN Model</text>
<text class="lg" transform="translate(179.0,81.1) scale(1,1.02)" text-anchor="start">FAST Model</text>
<rect x="1023.3" y="26.0" width="201.4" height="61.6" fill="#fff" stroke="#111" stroke-width="1.6"/>
<path d="M1028.8999999999999,42.3h55" stroke="#ff0000" stroke-width="4" stroke-dasharray="11 10.6" fill="none"/>
<path d="M1028.8999999999999,71.0h54.5" stroke="#0072bd" stroke-width="2.3" fill="none"/>
<text class="lg" transform="translate(1087.6,51.5) scale(1,1.02)" text-anchor="start">ANN Model</text>
<text class="lg" transform="translate(1087.6,81.0) scale(1,1.02)" text-anchor="start">FAST Model</text>
<text class="tk" transform="translate(99.0,386.6) scale(1,1.02)" text-anchor="middle">0</text>
<text class="tk" transform="translate(191.9,386.6) scale(1,1.02)" text-anchor="middle">50</text>
<text class="tk" transform="translate(284.9,386.6) scale(1,1.02)" text-anchor="middle">100</text>
<text class="tk" transform="translate(377.9,386.6) scale(1,1.02)" text-anchor="middle">150</text>
<text class="tk" transform="translate(470.8,386.6) scale(1,1.02)" text-anchor="middle">200</text>
<text class="tk" transform="translate(563.8,386.6) scale(1,1.02)" text-anchor="middle">250</text>
<text class="tk" transform="translate(656.7,386.6) scale(1,1.02)" text-anchor="middle">300</text>
<text class="tk" transform="translate(749.6,386.6) scale(1,1.02)" text-anchor="middle">350</text>
<text class="tk" transform="translate(842.6,386.6) scale(1,1.02)" text-anchor="middle">400</text>
<text class="tk" transform="translate(1008.5,386.6) scale(1,1.02)" text-anchor="middle">0</text>
<text class="tk" transform="translate(1101.4,386.6) scale(1,1.02)" text-anchor="middle">50</text>
<text class="tk" transform="translate(1194.2,386.6) scale(1,1.02)" text-anchor="middle">100</text>
<text class="tk" transform="translate(1287.1,386.6) scale(1,1.02)" text-anchor="middle">150</text>
<text class="tk" transform="translate(1380.0,386.6) scale(1,1.02)" text-anchor="middle">200</text>
<text class="tk" transform="translate(1472.9,386.6) scale(1,1.02)" text-anchor="middle">250</text>
<text class="tk" transform="translate(1565.8,386.6) scale(1,1.02)" text-anchor="middle">300</text>
<text class="tk" transform="translate(1658.6,386.6) scale(1,1.02)" text-anchor="middle">350</text>
<text class="tk" transform="translate(1751.5,386.6) scale(1,1.02)" text-anchor="middle">400</text>
<text class="tk" transform="translate(90.6,97.3) scale(1,1.02)" text-anchor="end">-0.02</text>
<text class="tk" transform="translate(90.6,175.3) scale(1,1.02)" text-anchor="end">-0.04</text>
<text class="tk" transform="translate(90.6,253.3) scale(1,1.02)" text-anchor="end">-0.06</text>
<text class="tk" transform="translate(90.6,331.1) scale(1,1.02)" text-anchor="end">-0.08</text>
<text class="tk" transform="translate(998.7,20.3) scale(1,1.02)" text-anchor="end">0.3</text>
<text class="tk" transform="translate(998.7,79.0) scale(1,1.02)" text-anchor="end">0.25</text>
<text class="tk" transform="translate(998.7,137.8) scale(1,1.02)" text-anchor="end">0.2</text>
<text class="tk" transform="translate(998.7,196.6) scale(1,1.02)" text-anchor="end">0.15</text>
<text class="tk" transform="translate(998.7,255.5) scale(1,1.02)" text-anchor="end">0.1</text>
<text class="tk" transform="translate(998.7,314.4) scale(1,1.02)" text-anchor="end">0.05</text>
<text class="lb" transform="translate(480.6,423.8) scale(1,1.02)" text-anchor="middle">Time (s)</text>
<text class="lb" transform="translate(1390.0,423.8) scale(1,1.02)" text-anchor="middle">Time (s)</text>
<text class="lb" transform="translate(20.6,182.3) rotate(-90) scale(1,1.02)" text-anchor="middle">Side-to-Side (m)</text>
<text class="lb" transform="translate(937.2,182.1) rotate(-90) scale(1,1.02)" text-anchor="middle">Roll (deg)</text>
<text x="287" y="480.3"><tspan class="cb">(a)</tspan><tspan class="cs" dx="1.2"> Side-side displacement.</tspan></text>
<text x="1265" y="480.3"><tspan class="cb">(b)</tspan><tspan class="cs" dx="1.2"> Platform roll</tspan></text>
</svg>
</body></html>
